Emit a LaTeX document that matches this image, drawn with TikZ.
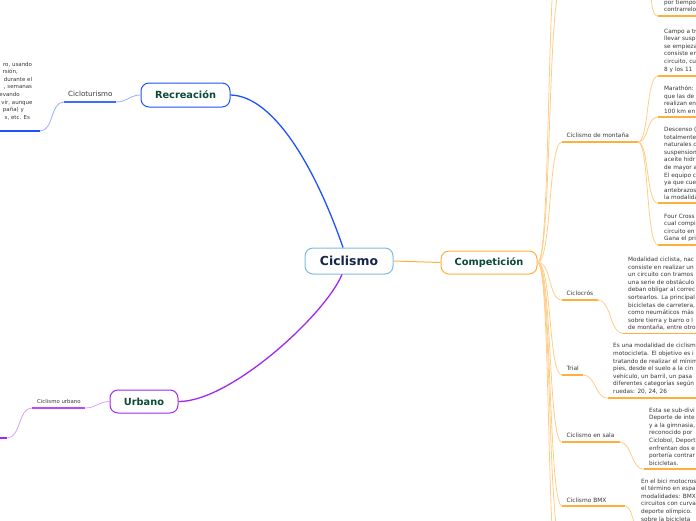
\documentclass[tikz,border=0pt]{standalone}
\usepackage{fontspec}
\setmainfont{DejaVu Sans}
\usetikzlibrary{calc}
\definecolor{rootline}{RGB}{125,185,230}
\definecolor{roottext}{RGB}{20,37,74}
\definecolor{titletext}{RGB}{11,74,53}
\definecolor{orgmain}{RGB}{255,176,60}
\definecolor{orgline}{RGB}{255,205,135}
\definecolor{bluemain}{RGB}{30,82,255}
\definecolor{blueline}{RGB}{60,108,255}
\definecolor{bluelight}{RGB}{150,175,255}
\definecolor{purmain}{RGB}{160,40,240}
\definecolor{purline}{RGB}{182,76,245}
\definecolor{purlight}{RGB}{215,160,248}
\definecolor{bodytext}{RGB}{55,55,55}
\tikzset{
  box/.style={draw, fill=white, rounded corners=8pt, line width=1pt, inner sep=0pt,
    font=\bfseries\fontsize{9.8}{11}\selectfont, text=titletext},
  rootbox/.style={box, draw=rootline, text=roottext, font=\bfseries\fontsize{12.4}{14}\selectfont,
    minimum width=88pt, minimum height=26pt},
  lbl/.style={anchor=base west, inner sep=0pt, text=bodytext, font=\fontsize{5.9}{7}\selectfont},
  body/.style={anchor=north west, inner sep=0pt, align=left, text=bodytext,
    font=\fontsize{5.8}{7.6}\selectfont},
  frag/.style={anchor=base east, inner sep=0pt, text=bodytext, font=\fontsize{5.5}{7}\selectfont},
  ocon/.style={draw=orgline, line width=0.8pt},
  oul/.style={draw=orgmain, line width=1.8pt},
}
\begin{document}
\begin{tikzpicture}[x=1pt,y=-1pt]
\useasboundingbox (0,0) rectangle (696,520);
\clip (0,0) rectangle (696,520);

% ---- main nodes
\node[rootbox] (ciclismo) at (349,261) {Ciclismo};
\node[box, draw=orgmain, minimum width=96pt, minimum height=23pt] (comp) at (489,262.5) {Competición};
\node[box, draw=bluemain, minimum width=89pt, minimum height=24pt] (rec) at (185.5,95) {Recreación};
\node[box, draw=purmain, minimum width=68pt, minimum height=23pt] (urb) at (144,401.5) {Urbano};

% ---- main branches
\draw[draw=bluemain, line width=1.3pt] ($(ciclismo.north)+(-6,0)$) .. controls (318,175) and (276,96) .. (rec.east);
\draw[draw=purmain, line width=1.3pt] ($(ciclismo.south)+(-7,0)$) .. controls (325,315) and (230,402) .. (urb.east);
\draw[draw=orgmain, line width=1pt] (ciclismo.east) -- (comp.west);

% ---- Recreacion side
\coordinate (ctL) at (64,102); \coordinate (ctR) at (116,102);
\coordinate (ctbR) at (40,131); \coordinate (ctbL) at (-5,131);
\node[anchor=base west, inner sep=0pt, text=bodytext, font=\fontsize{7.1}{8}\selectfont] (ciclotur) at (68,96.5) {Cicloturismo};
\draw[draw=bluelight, line width=0.8pt] (rec.west) .. controls (130,95) and (127,102) .. (ctR);
\draw[draw=blueline, line width=1.8pt] (ctL) -- (ctR);
\draw[draw=bluelight, line width=0.8pt] (ctL) .. controls (50,102) and (54,131) .. (ctbR);
\draw[draw=bluemain, line width=1.8pt] (ctbL) -- (ctbR);
\node[frag] (f1) at (32.3,66) {ro, usando};
\node[frag] (f2) at (18,73.6) {rsión,};
\node[frag] (f3) at (32.3,81.2) {durante el};
\node[frag] (f4) at (32.3,88.8) {, semanas};
\node[frag] (f5) at (20,96.4) {evando};
\node[frag] (f6) at (32.8,104) {vir, aunque};
\node[frag] (f7) at (24,111.6) {paña) y};
\node[frag] (f8) at (30.2,119.2) {s, etc. Es};

% ---- Urbano side
\coordinate (cuL) at (32,408); \coordinate (cuR) at (85,408);
\coordinate (cubR) at (7,438); \coordinate (cubL) at (-5,438);
\node[anchor=base west, inner sep=0pt, text=bodytext, font=\fontsize{5.4}{6.5}\selectfont] (cicurb) at (37,403) {Ciclismo urbano};
\draw[draw=purlight, line width=0.8pt] (urb.west) .. controls (98,402) and (96,408) .. (cuR);
\draw[draw=purline, line width=1.8pt] (cuL) -- (cuR);
\draw[draw=purlight, line width=0.8pt] (cuL) .. controls (18,408) and (21,438) .. (cubR);
\draw[draw=purmain, line width=1.8pt] (cubL) -- (cubR);

% ---- Competicion fan
\coordinate (offA) at (562,-15); \coordinate (offB) at (562,-70);
\coordinate (offC) at (562,545); \coordinate (offD) at (562,600);
\draw[ocon] (comp.east) .. controls (552,262) and (547,-15) .. (offA);
\draw[ocon] (comp.east) .. controls (552,262) and (545,-70) .. (offB);
\draw[ocon] (comp.east) .. controls (552,262) and (547,545) .. (offC);
\draw[ocon] (comp.east) .. controls (552,262) and (545,600) .. (offD);

% Ciclismo de montana
\coordinate (cmL) at (562,142); \coordinate (cmR) at (638,142);
\node[lbl] (cmT) at (566.5,137.5) {Ciclismo de montaña};
\draw[ocon] (comp.east) .. controls (552,262) and (548,142) .. (cmL);
\draw[oul] (cmL) -- (cmR);

\coordinate (topP) at (650,-12); \coordinate (topL) at (658,16); \coordinate (topR) at (700,16);
\draw[ocon] (topP) .. controls (652,5) and (652,16) .. (topL);
\draw[oul] (topL) -- (topR);
\node[body] (topT) at (664,-0.5) {por tiempo\\contrarreloj};

\coordinate (caL) at (658,76); \coordinate (caR) at (700,76);
\draw[ocon] (cmR) .. controls (649,142) and (646,76) .. (caL);
\draw[oul] (caL) -- (caR);
\node[body] (caT) at (664,28.5) {Campo a tr\\llevar susp\\se empieza\\consiste en\\circuito, cu\\8 y los 11};

\coordinate (maL) at (658,117); \coordinate (maR) at (700,117);
\draw[ocon] (cmR) .. controls (649,142) and (646,117) .. (maL);
\draw[oul] (maL) -- (maR);
\node[body] (maT) at (664,85.8) {Marathón:\\que las de\\realizan en\\100 km en};

\coordinate (deL) at (658,203.3); \coordinate (deR) at (700,203.3);
\draw[ocon] (cmR) .. controls (649,142) and (646,203.3) .. (deL);
\draw[oul] (deL) -- (deR);
\node[body] (deT) at (664,126.8) {Descenso (\\totalmente\\naturales c\\suspension\\aceite hidr\\de mayor a\\El equipo c\\ya que cue\\antebrazos\\la modalida};

\coordinate (fcL) at (658,245); \coordinate (fcR) at (700,245);
\draw[ocon] (cmR) .. controls (649,142) and (646,245) .. (fcL);
\draw[oul] (fcL) -- (fcR);
\node[body] (fcT) at (664,213.5) {Four Cross\\cual compi\\circuito en\\Gana el pri};

% Ciclocros
\coordinate (ccL) at (562,300); \coordinate (ccR) at (598,300);
\node[lbl] (ccT) at (566.5,295.5) {Ciclocrós};
\draw[ocon] (comp.east) .. controls (552,262) and (548,300) .. (ccL);
\draw[oul] (ccL) -- (ccR);
\coordinate (ccbL) at (623,333.5); \coordinate (ccbR) at (700,333.5);
\draw[ocon] (ccR) .. controls (611,300) and (610,333.5) .. (ccbL);
\draw[oul] (ccbL) -- (ccbR);
\node[body] (ccB) at (628,256.8) {Modalidad ciclista, nac\\consiste en realizar un\\un circuito con tramos\\una serie de obstáculo\\deban obligar al correc\\sortearlos. La principal\\bicicletas de carretera,\\como neumáticos más\\sobre tierra y barro o l\\de montaña, entre otro};

% Trial
\coordinate (trL) at (562,375); \coordinate (trR) at (583,375);
\node[lbl] (trT) at (566.5,370.8) {Trial};
\draw[ocon] (comp.east) .. controls (552,262) and (548,375) .. (trL);
\draw[oul] (trL) -- (trR);
\coordinate (trbL) at (608,398.3); \coordinate (trbR) at (700,398.3);
\draw[ocon] (trR) .. controls (596,375) and (595,398.3) .. (trbL);
\draw[oul] (trbL) -- (trbR);
\node[body] (trB) at (613,343.2) {Es una modalidad de ciclism\\motocicleta. El objetivo es i\\tratando de realizar el mínim\\pies, desde el suelo a la cin\\vehículo, un barril, un pasa\\diferentes categorías según\\ruedas: 20, 24, 26};

% Ciclismo en sala
\coordinate (saL) at (562,442.3); \coordinate (saR) at (620,442.3);
\node[lbl] (saT) at (566.5,437.8) {Ciclismo en sala};
\draw[ocon] (comp.east) .. controls (552,262) and (548,442.3) .. (saL);
\draw[oul] (saL) -- (saR);
\coordinate (sabL) at (644,469.3); \coordinate (sabR) at (700,469.3);
\draw[ocon] (saR) .. controls (632,442.3) and (631,469.3) .. (sabL);
\draw[oul] (sabL) -- (sabR);
\node[body] (saB) at (649,407.5) {Esta se sub-divi\\Deporte de inte\\y a la gimnasia,\\reconocido por\\Ciclobol, Deport\\enfrentan dos e\\portería contrar\\bicicletas.};

% Ciclismo BMX
\coordinate (bmL) at (562,506); \coordinate (bmR) at (625,506);
\node[lbl] (bmT) at (566.5,502) {Ciclismo BMX};
\draw[ocon] (comp.east) .. controls (552,262) and (548,506) .. (bmL);
\draw[oul] (bmL) -- (bmR);
\coordinate (bmbL) at (641,535); \coordinate (bmbR) at (700,535);
\draw[ocon] (bmR) .. controls (634,506) and (633,535) .. (bmbL);
\draw[oul] (bmbL) -- (bmbR);
\node[body] (bmB) at (641,478.5) {En el bici motocros\\el término en espa\\modalidades: BMX\\circuitos con curva\\deporte olímpico.\\sobre la bicicleta};
\end{tikzpicture}
\end{document}
